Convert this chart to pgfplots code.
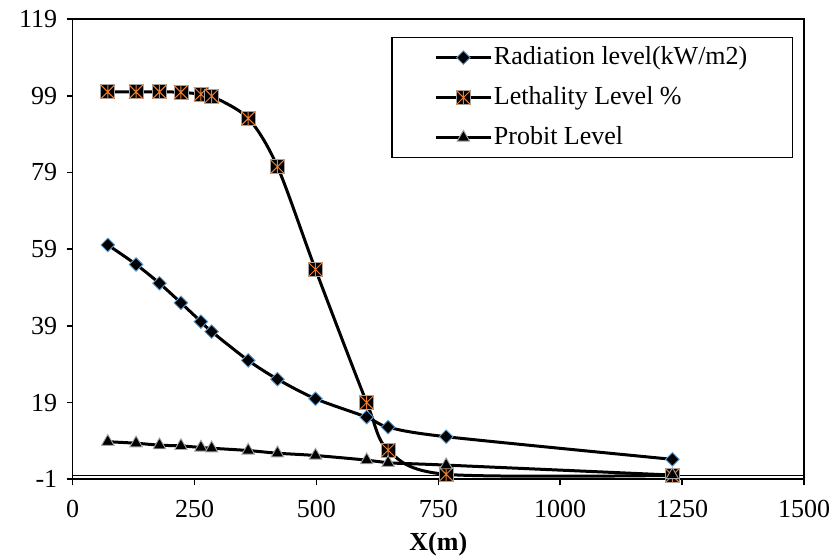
\documentclass[border=0pt]{standalone}
\usepackage{pgfplots}
\pgfplotsset{compat=1.18}
\usepackage{fontspec}
\setmainfont{Liberation Serif}
\definecolor{mblue}{HTML}{5B9BD5}
\definecolor{morange}{HTML}{ED7D31}
\definecolor{mgray}{HTML}{A5A5A5}
\pgfdeclareplotmark{sqast}{%
  \pgfpathrectangle{\pgfpoint{-\pgfplotmarksize}{-\pgfplotmarksize}}{\pgfpoint{2\pgfplotmarksize}{2\pgfplotmarksize}}%
  \pgfsetfillcolor{black}\pgfsetstrokecolor{mgray}\pgfsetlinewidth{0.8pt}%
  \pgfusepath{fill,stroke}%
  \pgfsetstrokecolor{morange}\pgfsetlinewidth{1pt}%
  \pgfpathmoveto{\pgfpoint{-\pgfplotmarksize}{-\pgfplotmarksize}}\pgfpathlineto{\pgfpoint{\pgfplotmarksize}{\pgfplotmarksize}}%
  \pgfpathmoveto{\pgfpoint{-\pgfplotmarksize}{\pgfplotmarksize}}\pgfpathlineto{\pgfpoint{\pgfplotmarksize}{-\pgfplotmarksize}}%
  \pgfpathmoveto{\pgfpoint{0pt}{-\pgfplotmarksize}}\pgfpathlineto{\pgfpoint{0pt}{\pgfplotmarksize}}%
  \pgfusepath{stroke}%
}
\begin{document}
\fontsize{26pt}{30pt}\selectfont
\begin{tikzpicture}
\begin{axis}[
  at={(0,0)}, anchor=south west,
  scale only axis, width=731.3pt, height=460.3pt,
  xmin=0, xmax=1500, ymin=-1, ymax=119,
  xtick={0,250,...,1500}, ytick={-1,19,...,119},
  tick align=outside, tick pos=left, major tick length=6pt,
  line width=1.6pt,
  every tick/.style={black, line width=1.6pt},
  /pgf/number format/assume math mode=true,
  /pgf/number format/1000 sep={},
  ticklabel style={font=\fontsize{26pt}{30pt}\selectfont},
  xticklabel style={yshift=-5pt},
  xlabel={\textbf{X(m)}},
  xlabel style={font=\fontsize{26pt}{30pt}\selectfont, yshift=3pt},
  legend style={at={(rel axis cs:1,1)}, anchor=north east, xshift=-11pt, yshift=-18pt,
    draw=black, line width=1.3pt, inner xsep=43pt, inner ysep=7pt, row sep=14pt,
    font=\fontsize{26pt}{30pt}\selectfont, cells={anchor=west}, nodes={inner sep=2pt}},
  legend image code/.code={\draw[#1, mark repeat=2, mark phase=2] plot coordinates {(0pt,0pt) (27pt,0pt) (54pt,0pt)};},
]
\addplot[forget plot, black, line width=1.6pt] coordinates {(0,0) (1500,0)};
\addplot[smooth, black, line width=3pt, mark=square*, mark size=4.8pt,
  mark options={rotate=45, fill=black, draw=mblue, line width=0.9pt}] coordinates {
(72,60.1) (130,55.0) (178,50.1) (222,45.0) (263,40.1) (285,37.5) (360,30.0) (420,25.1) (498,20.0) (603,15.2) (647,12.6) (766,10.1) (1230,4.2)};
\addlegendentry{Radiation level(kW/m2)}
\addplot[smooth, black, line width=3pt, mark=sqast, mark size=7pt] coordinates {
(72,100) (130,100) (178,100) (222,99.9) (263,99.4) (285,98.9) (360,93.1) (420,80.5) (498,53.7) (603,19.0) (647,6.6) (766,0.3) (1230,0)};
\addlegendentry{Lethality Level \%}
\addplot[smooth, black, line width=3pt, mark=triangle*, mark size=7.2pt,
  mark options={fill=black, draw=mgray, line width=0.9pt}] coordinates {
(72,8.8) (130,8.4) (178,7.9) (222,7.7) (263,7.3) (285,7.1) (360,6.5) (420,5.8) (498,5.2) (603,4.0) (647,3.3) (766,2.7) (1230,0.1)};
\addlegendentry{Probit Level}
\end{axis}
\pgfresetboundingbox
\path (-72.7pt,-79.7pt) rectangle (760.3pt,479.3pt);
\end{tikzpicture}
\end{document}
